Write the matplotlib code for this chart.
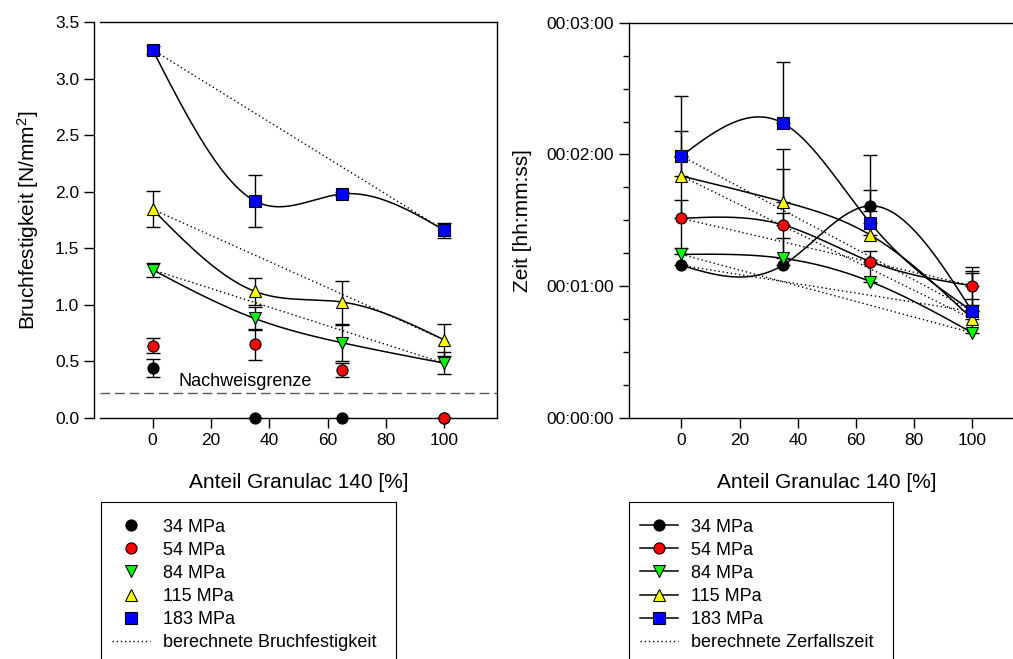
import matplotlib
matplotlib.use("Agg")
import matplotlib.pyplot as plt
import numpy as np
import matplotlib.ticker as ticker
from matplotlib import rcParams
from matplotlib.lines import Line2D

rcParams["font.family"] = ["Liberation Sans", "DejaVu Sans"]
rcParams["mathtext.fontset"] = "custom"
rcParams["mathtext.rm"] = "Liberation Sans"
rcParams["mathtext.it"] = "Liberation Sans:italic"

# Anteil Granulac 140 [%]
anteil = [0, 35, 65, 100]
druck = ["34 MPa", "54 MPa", "84 MPa", "115 MPa", "183 MPa"]
farben = ["#000000", "#ff0000", "#00ff00", "#ffff00", "#0000ff"]
marker = ["o", "o", "v", "^", "s"]

# Bruchfestigkeit [N/mm2]
bf_34 = [0.44, 0.0, 0.0, 0.0]
bf_54 = [0.64, 0.65, 0.425, 0.0]
bf_84 = [1.31, 0.88, 0.665, 0.485]
bf_115 = [1.845, 1.12, 1.025, 0.69]
bf_183 = [3.255, 1.92, 1.98, 1.66]
bf_err_34 = [0.078, 0, 0, 0]
bf_err_54 = [0.067, 0.135, 0.065, 0]
bf_err_84 = [0.06, 0.1, 0.157, 0.1]
bf_err_115 = [0.16, 0.12, 0.19, 0.14]
bf_err_183 = [0.035, 0.23, 0.02, 0.066]
nachweisgrenze = 0.224

# Zerfallszeit [s]
zt_34 = [69.5, 69.7, 96.6, 48.5]
zt_54 = [90.9, 87.9, 71.2, 60.2]
zt_84 = [74.5, 72.7, 62.1, 38.8]
zt_115 = [110.2, 98.5, 83.3, 45.1]
zt_183 = [119.3, 134.2, 88.7, 48.7]
zt_err_34 = [49.5, 12.1, 23.1, 3]
zt_err_54 = [8.4, 25.5, 5.0, 8.7]
zt_err_84 = [3, 20.5, 8, 15.3]
zt_err_115 = [20.6, 24.0, 11.0, 20.8]
zt_err_183 = [27.3, 27.8, 15.1, 18.4]

bf = [bf_34, bf_54, bf_84, bf_115, bf_183]
bf_err = [bf_err_34, bf_err_54, bf_err_84, bf_err_115, bf_err_183]
zt = [zt_34, zt_54, zt_84, zt_115, zt_183]
zt_err = [zt_err_34, zt_err_54, zt_err_84, zt_err_115, zt_err_183]


def spline(x, y, xs):
    # natuerlicher kubischer Spline
    x = np.asarray(x, float)
    y = np.asarray(y, float)
    n = len(x)
    h = np.diff(x)
    A = np.zeros((n, n))
    r = np.zeros(n)
    A[0, 0] = A[-1, -1] = 1
    for i in range(1, n - 1):
        A[i, i - 1] = h[i - 1]
        A[i, i] = 2 * (h[i - 1] + h[i])
        A[i, i + 1] = h[i]
        r[i] = 3 * ((y[i + 1] - y[i]) / h[i] - (y[i] - y[i - 1]) / h[i - 1])
    c = np.linalg.solve(A, r)
    b = (y[1:] - y[:-1]) / h - h * (2 * c[:-1] + c[1:]) / 3
    d = (c[1:] - c[:-1]) / (3 * h)
    idx = np.clip(np.searchsorted(x, xs) - 1, 0, n - 2)
    dx = xs - x[idx]
    return y[idx] + b[idx] * dx + c[idx] * dx**2 + d[idx] * dx**3


xs = np.linspace(0, 100, 300)
W, H = 1013, 659
fig = plt.figure(figsize=(W / 100, H / 100), dpi=100)
ax1 = fig.add_axes([100 / W, 1 - 418 / H, 396.7 / W, 396 / H])
ax2 = fig.add_axes([629 / W, 1 - 418 / H, 395.7 / W, 395.3 / H])

dot = (0, (1, 2))
mkw = dict(markeredgecolor="k", markeredgewidth=0.8, markersize=8)

# linkes Diagramm
for i in range(5):
    ax1.errorbar(anteil, bf[i], yerr=bf_err[i], fmt="none", ecolor="k",
                 elinewidth=1, capsize=5, capthick=1, zorder=2)
    if i >= 2:
        ax1.plot(xs, spline(anteil, bf[i], xs), color="k", lw=1.1, zorder=3)
        ax1.plot([anteil[0], anteil[-1]], [bf[i][0], bf[i][-1]], color="k",
                 lw=1, linestyle=dot, zorder=3)
    ax1.plot(anteil, bf[i], linestyle="none", marker=marker[i], color=farben[i],
             zorder=5, clip_on=False, **mkw)
ax1.axhline(nachweisgrenze, color="0.35", lw=1, dashes=(7, 3.5), zorder=1)
ax1.text(9, 0.32, "Nachweisgrenze", fontsize=13, va="center", ha="left")

ax1.set_xlim(-18, 118)
ax1.set_ylim(0, 3.5)
ax1.xaxis.set_major_locator(ticker.MultipleLocator(20))
ax1.xaxis.set_major_formatter(ticker.FuncFormatter(lambda v, p: "%d" % v if 0 <= v <= 100 else ""))
ax1.yaxis.set_major_locator(ticker.MultipleLocator(0.5))
ax1.yaxis.set_major_formatter(ticker.FormatStrFormatter("%.1f"))
ax1.spines["left"].set_position(("outward", 4))
ax1.set_xlabel("Anteil Granulac 140 [%]", fontsize=15, labelpad=18)
ax1.set_ylabel("Bruchfestigkeit [N/mm$^2$]", fontsize=15, labelpad=10)

# rechtes Diagramm
for i in range(5):
    ax2.errorbar(anteil, zt[i], yerr=[np.zeros(4), zt_err[i]], fmt="none",
                 ecolor="k", elinewidth=1, capsize=5, capthick=1, zorder=2)
    ax2.plot(xs, spline(anteil, zt[i], xs), color="k", lw=1.1, zorder=3)
    ax2.plot([anteil[0], anteil[-1]], [zt[i][0], zt[i][-1]], color="k",
             lw=1, linestyle=dot, zorder=3)
for i in range(5):
    ax2.plot(anteil, zt[i], linestyle="none", marker=marker[i], color=farben[i],
             zorder=5, **mkw)

ax2.set_xlim(-18, 118)
ax2.set_ylim(0, 180)
ax2.xaxis.set_major_locator(ticker.MultipleLocator(20))
ax2.xaxis.set_major_formatter(ticker.FuncFormatter(lambda v, p: "%d" % v if 0 <= v <= 100 else ""))
ax2.yaxis.set_major_locator(ticker.MultipleLocator(60))
ax2.yaxis.set_minor_locator(ticker.MultipleLocator(15))
ax2.yaxis.set_major_formatter(ticker.FuncFormatter(
    lambda v, p: "%02d:%02d:%02d" % (v // 3600, v % 3600 // 60, v % 60)))
ax2.set_xlabel("Anteil Granulac 140 [%]", fontsize=15, labelpad=18)
ax2.set_ylabel("Zeit [hh:mm:ss]", fontsize=15, labelpad=10)

for ax in (ax1, ax2):
    ax.tick_params(which="major", direction="out", length=7, width=1,
                   labelsize=12.5, pad=4, top=False, right=False)
    ax.tick_params(which="minor", direction="out", length=4, width=1,
                   top=False, right=False)
    for s in ax.spines.values():
        s.set_linewidth(1)

# Legenden
h1 = [Line2D([], [], linestyle="none", marker=marker[i], color=farben[i], **mkw)
      for i in range(5)]
h1.append(Line2D([], [], color="k", lw=1, linestyle=dot))
h2 = [Line2D([], [], color="k", lw=1.1, marker=marker[i], markerfacecolor=farben[i], **mkw)
      for i in range(5)]
h2.append(Line2D([], [], color="k", lw=1, linestyle=dot))

lax_h = (H - 501.7) + 0.1 * H
for x0, x1, hs, lab in [
    (101, 396, h1, "berechnete Bruchfestigkeit"),
    (629, 892.7, h2, "berechnete Zerfallszeit"),
]:
    lax = fig.add_axes([x0 / W, -0.1, (x1 - x0) / W, lax_h / H])
    lax.set_xticks([])
    lax.set_yticks([])
    lax.patch.set_alpha(0)
    lax.legend(hs, druck + [lab], loc="upper left",
               bbox_to_anchor=(0, 1 - 6 / lax_h),
               frameon=False, borderaxespad=0, borderpad=0.6, fontsize=13,
               handlelength=2.1, handletextpad=0.75, labelspacing=0.34)

fig.savefig("out.png", dpi=100)
